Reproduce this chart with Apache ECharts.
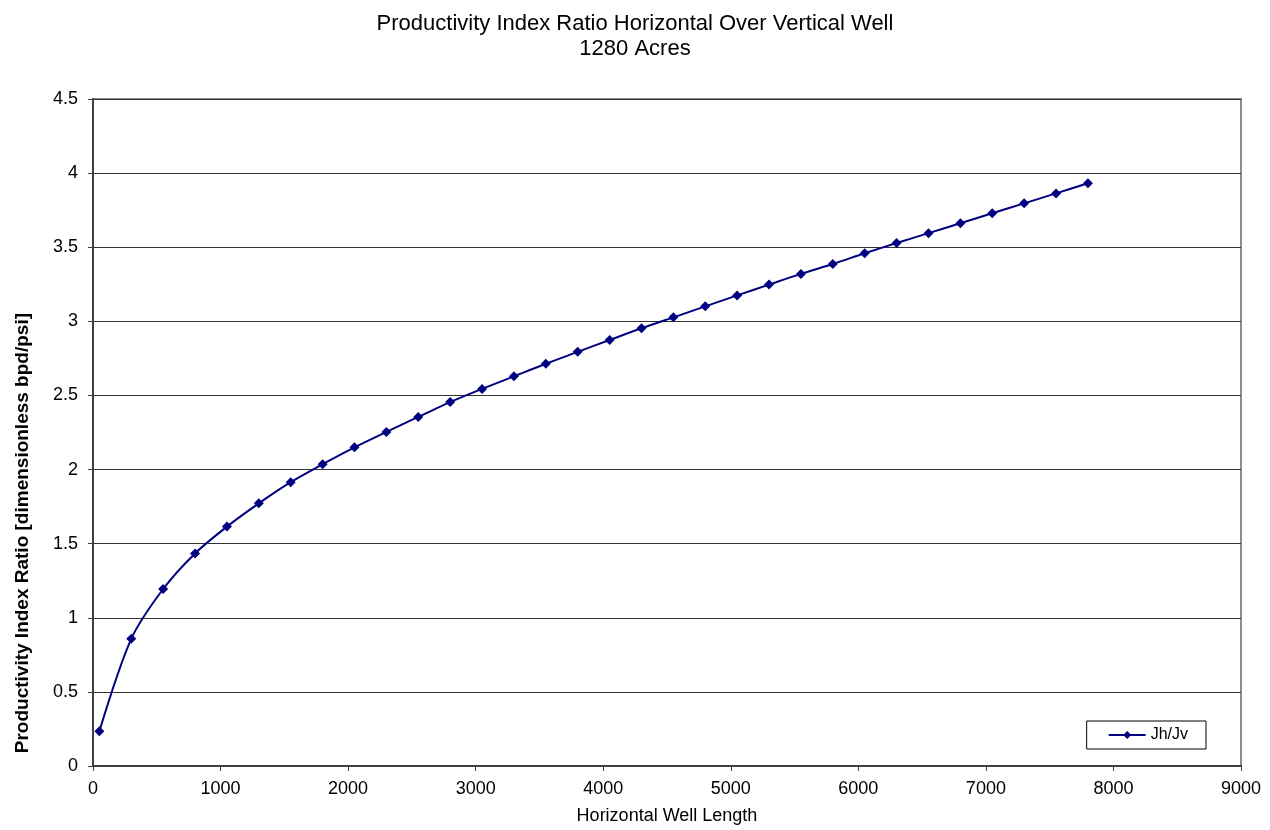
<!DOCTYPE html>
<html>
<head>
<meta charset="utf-8">
<title>Productivity Index Ratio</title>
<script src="https://cdn.jsdelivr.net/npm/echarts@6/dist/echarts.min.js"></script>
<style>
    html, body { margin: 0; padding: 0; background: #fff; }
    #main { width: 1270px; height: 830px; }
</style>
</head>
<body>
<div id="main"></div>
<script>
// horizontal well length (ft) and Jh/Jv
var wellLength = [50, 300, 550, 800, 1050, 1300, 1550, 1800, 2050, 2300, 2550,
    2800, 3050, 3300, 3550, 3800, 4050, 4300, 4550, 4800, 5050, 5300, 5550,
    5800, 6050, 6300, 6550, 6800, 7050, 7300, 7550, 7800];
var jhJv = [0.234, 0.858, 1.194, 1.434, 1.615, 1.772, 1.915, 2.036, 2.150, 2.254,
    2.355, 2.455, 2.544, 2.629, 2.714, 2.794, 2.874, 2.953, 3.027, 3.101,
    3.175, 3.248, 3.320, 3.387, 3.459, 3.528, 3.595, 3.662, 3.729, 3.796,
    3.863, 3.932];

var seriesName = 'Jh/Jv';
var titleText = 'Productivity Index Ratio Horizontal Over Vertical Well\n1280 Acres';
var xName = 'Horizontal Well Length';
var yName = 'Productivity Index Ratio [dimensionless bpd/psi]';

var points = [];
for (var i = 0; i < wellLength.length; i++) {
    points.push([wellLength[i], jhJv[i]]);
}

var myChart = echarts.init(document.getElementById('main'));

var font = 'Liberation Sans, Arial, sans-serif';

option = {
    animation: false,
    textStyle: {
        fontFamily: font
    },
    title: {
        text: titleText,
        left: 'center',
        top: 6,
        textStyle: {
            fontFamily: font,
            fontSize: 22,
            fontWeight: 'normal',
            color: '#000',
            lineHeight: 25
        }
    },
    legend: {
        right: 64,
        bottom: 81,
        orient: 'horizontal',
        padding: [6, 18, 6, 21],
        itemWidth: 37,
        itemHeight: 10,
        borderColor: '#000',
        borderWidth: 1,
        backgroundColor: '#fff',
        textStyle: {
            fontFamily: font,
            fontSize: 16,
            color: '#000'
        },
        data: [seriesName]
    },
    grid: {
        left: 93,
        right: 29,
        top: 99,
        bottom: 60,
        show: true,
        borderColor: '#8c8c8c',
        borderWidth: 2,
        backgroundColor: '#fff'
    },
    graphic: [{
        type: 'text',
        left: 13,
        top: 313,
        rotation: Math.PI / 2,
        style: {
            text: yName,
            font: 'bold 19px ' + font,
            fill: '#000'
        }
    }],
    xAxis: {
        type: 'value',
        min: 0,
        max: 9000,
        interval: 1000,
        name: xName,
        nameLocation: 'middle',
        nameGap: 41,
        nameTextStyle: {
            fontFamily: font,
            fontSize: 18,
            color: '#000'
        },
        axisLine: {
            lineStyle: { color: '#404040', width: 2 }
        },
        axisTick: {
            show: true,
            length: 5,
            lineStyle: { color: '#404040' }
        },
        axisLabel: {
            margin: 14,
            fontSize: 18,
            color: '#000',
            formatter: function (v) { return String(v); }
        },
        splitLine: { show: false }
    },
    yAxis: {
        type: 'value',
        min: 0,
        max: 4.5,
        interval: 0.5,
        axisLine: {
            show: true,
            lineStyle: { color: '#404040', width: 2 }
        },
        axisTick: {
            show: true,
            length: 5,
            lineStyle: { color: '#404040' }
        },
        axisLabel: {
            margin: 15,
            fontSize: 18,
            color: '#000'
        },
        splitLine: {
            show: true,
            lineStyle: { color: '#333', width: 1 }
        }
    },
    series: [{
        name: seriesName,
        type: 'line',
        data: points,
        smooth: 0.3,
        symbol: 'diamond',
        symbolSize: 10,
        lineStyle: {
            color: '#000080',
            width: 2
        },
        itemStyle: {
            color: '#000080'
        }
    }]
};

myChart.setOption(option);
</script>
</body>
</html>
